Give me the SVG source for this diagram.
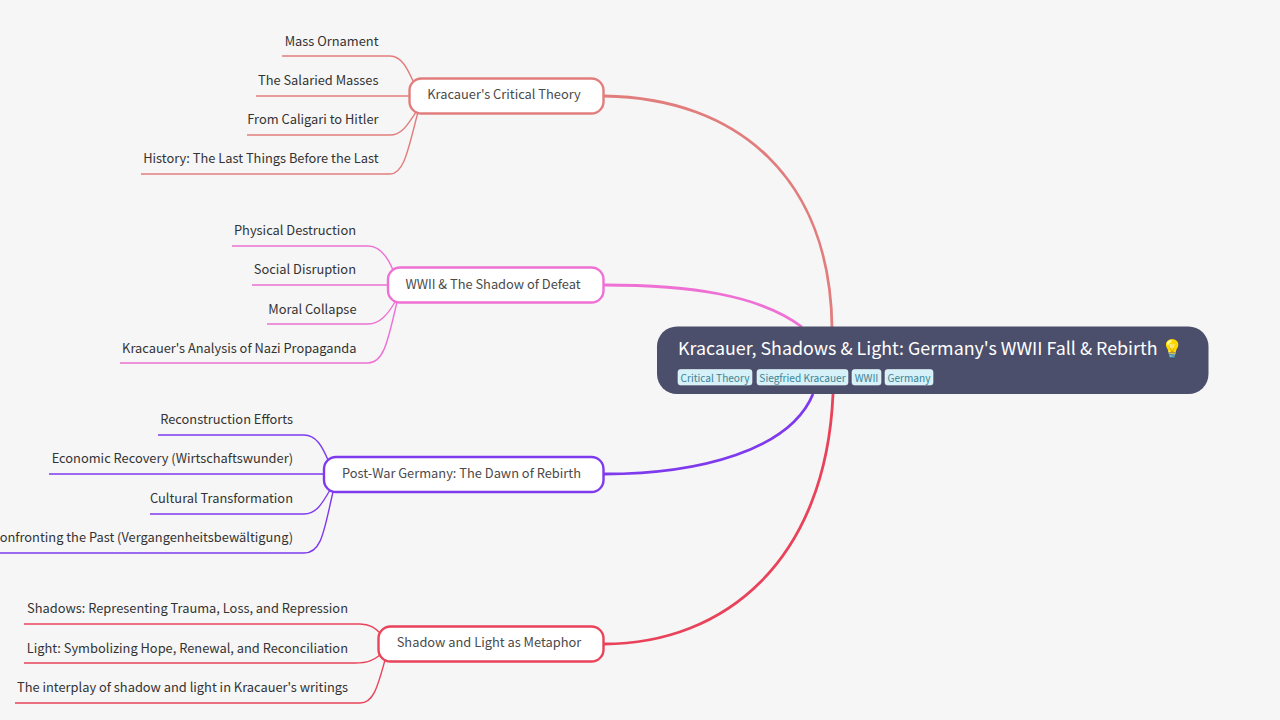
<svg xmlns="http://www.w3.org/2000/svg" width="1280" height="720" viewBox="0 0 1280 720">
<style>
text{font-family:"Noto Sans CJK SC","Noto Sans",sans-serif}
.l{font-size:12.85px;fill:#333;text-anchor:end}
.b{font-size:12.85px;fill:#4a4a4a;text-anchor:middle}
.c{fill:none;stroke-width:1.4}
.m{fill:none;stroke-width:2.8}
.n{fill:#fff;stroke-width:2.4}
.tag{fill:#d6f1f8;stroke:#eaf7fb;stroke-width:.6}
.tt{font-size:10.1px;fill:#3b8496;text-anchor:middle}
.red{stroke:#e27d7d}.pink{stroke:#ee70d4}.pur{stroke:#7f3aed}.crim{stroke:#e8435a}
</style>
<rect width="1280" height="720" fill="#f6f6f6"/>
<g id="connectors">
<path class="m red" d="M604 96C740 98 830 180 832 327"/>
<path class="m pink" d="M604 285C690 285 760 295 802 327"/>
<path class="m pur" d="M604 474C700 474 790 450 813 394"/>
<path class="m crim" d="M604 644C725 644 826 560 833 394"/>
<path class="c red" d="M282 56H390C402 56 408 70 413 81M256 96H410M247 135H390C402 135 408 124 416 112M141 174H390C404 174 408 150 418 112"/>
<path class="c pink" d="M232 246H368C380 246 388 258 393 270M252 285H388M267 324H368C380 324 388 314 395 302M120 363H368C384 363 388 340 397 302"/>
<path class="c pur" d="M158 435H304C316 435 322 446 328 460M49 474H325M150 514H304C316 514 322 504 330 490M0 553H304C322 553 324 530 333 492"/>
<path class="c crim" d="M24 624H360C370 624 375 628 380 633M24 663H355C368 663 374 660 380 655M15 703H360C374 703 378 685 385 660"/>
</g>
<g id="root"><rect x="657" y="326.500" width="551.500" height="67.500" rx="20" fill="#4c4f6b"/>
<text x="678" y="354.500" font-size="17.850" fill="#fff">Kracauer, Shadows &amp; Light: Germany's WWII Fall &amp; Rebirth 💡</text>
<rect class="tag" x="678" y="369.500" width="74" height="15.500" rx="2.500"/><text class="tt" x="715" y="381.500">Critical Theory</text>
<rect class="tag" x="757" y="369.500" width="91" height="15.500" rx="2.500"/><text class="tt" x="802.500" y="381.500">Siegfried Kracauer</text>
<rect class="tag" x="852" y="369.500" width="29" height="15.500" rx="2.500"/><text class="tt" x="866.500" y="381.500">WWII</text>
<rect class="tag" x="885" y="369.500" width="48" height="15.500" rx="2.500"/><text class="tt" x="909" y="381.500">Germany</text></g>
<g id="branch1"><rect class="n red" x="409.500" y="78.500" width="194" height="35" rx="12"/><text class="b" x="504" y="99">Kracauer's Critical Theory</text></g>
<g id="branch2"><rect class="n pink" x="388" y="267.500" width="215.500" height="35" rx="12"/><text class="b" x="493" y="288.500">WWII &amp; The Shadow of Defeat</text></g>
<g id="branch3"><rect class="n pur" x="324" y="457" width="279.500" height="35" rx="12"/><text class="b" x="461.500" y="478">Post-War Germany: The Dawn of Rebirth</text></g>
<g id="branch4"><rect class="n crim" x="378.500" y="626.500" width="225" height="35" rx="12"/><text class="b" x="489" y="647">Shadow and Light as Metaphor</text></g>
<g id="leaf1a"><text class="l" x="378.500" y="46">Mass Ornament</text></g>
<g id="leaf1b"><text class="l" x="378.500" y="85">The Salaried Masses</text></g>
<g id="leaf1c"><text class="l" x="378.500" y="124">From Caligari to Hitler</text></g>
<g id="leaf1d"><text class="l" x="378.500" y="163">History: The Last Things Before the Last</text></g>
<g id="leaf2a"><text class="l" x="356" y="235">Physical Destruction</text></g>
<g id="leaf2b"><text class="l" x="356" y="274">Social Disruption</text></g>
<g id="leaf2c"><text class="l" x="356.500" y="313.500">Moral Collapse</text></g>
<g id="leaf2d"><text class="l" x="356.500" y="352.500">Kracauer's Analysis of Nazi Propaganda</text></g>
<g id="leaf3a"><text class="l" x="293" y="424">Reconstruction Efforts</text></g>
<g id="leaf3b"><text class="l" x="293" y="463">Economic Recovery (Wirtschaftswunder)</text></g>
<g id="leaf3c"><text class="l" x="293" y="503">Cultural Transformation</text></g>
<g id="leaf3d"><text class="l" x="293" y="542">Confronting the Past (Vergangenheitsbewältigung)</text></g>
<g id="leaf4a"><text class="l" x="348" y="613">Shadows: Representing Trauma, Loss, and Repression</text></g>
<g id="leaf4b"><text class="l" x="348" y="652.500">Light: Symbolizing Hope, Renewal, and Reconciliation</text></g>
<g id="leaf4c"><text class="l" x="348" y="692">The interplay of shadow and light in Kracauer's writings</text></g>
</svg>
